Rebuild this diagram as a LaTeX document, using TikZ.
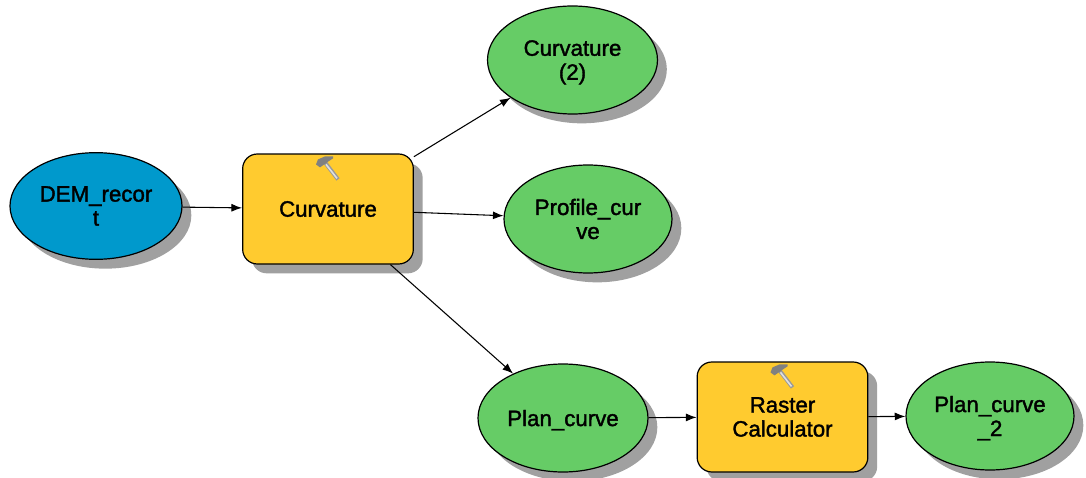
\documentclass[tikz,border=0pt]{standalone}
\usepackage{fontspec}
\setmainfont{Liberation Sans}[RawFeature={embolden=1.6}]
\usetikzlibrary{shapes.geometric,shadows,arrows.meta}

\definecolor{inputblue}{RGB}{0,153,204}
\definecolor{toolyellow}{RGB}{255,203,47}
\definecolor{outputgreen}{RGB}{102,204,102}
\definecolor{shadowgrey}{RGB}{160,160,160}

\tikzset{
  every picture/.style={line width=0.75pt},
  modelshape/.style={draw=black,line width=0.9pt,inner sep=0pt,align=center,
    font=\fontsize{16.7}{18}\selectfont,
    general shadow={fill=shadowgrey,shadow xshift=7pt,shadow yshift=-7pt}},
  dataoval/.style={modelshape,ellipse,minimum width=127.5pt,minimum height=81pt},
  toolbox/.style={modelshape,rectangle,rounded corners=11pt,minimum width=128pt,minimum height=82.5pt},
  flow/.style={draw=black,line width=0.8pt,-{Latex[length=8pt,width=6pt]}},
  hammericon/.pic={
    \draw [line width=3pt,color=black!40] (-3,-9) -- (10,-26) ;
    \draw [line width=1.2pt,color=black!12] (-2,-11) -- (9,-25) ;
    \fill [color=black!50] (-12,-11) -- (-10,-6) -- (-3,-3) -- (5,-3) -- (5,-5) -- (-1,-9) -- (-8,-14) -- cycle ;
  }
}

\begin{document}
\begin{tikzpicture}[x=0.75pt,y=0.75pt,yscale=-1,xscale=1]
\useasboundingbox (0,0) rectangle (1086,478);

% Data Nodes
\node [dataoval,fill=inputblue,minimum width=129pt,minimum height=80pt] (demrecort) at (96,206) {DEM\_recor\\t};
\node [dataoval,fill=outputgreen,text depth=0pt] (curvaturetwo) at (572.5,60) {Curvature\\(2)};
\node [dataoval,fill=outputgreen,minimum width=126pt] (profilecurve) at (588,219) {Profile\_cur\\ve};
\node [dataoval,fill=outputgreen,text depth=-1pt] (plancurve) at (563,418) {Plan\_curve};
\node [dataoval,fill=outputgreen,minimum width=126pt,text depth=0pt] (plancurvetwo) at (990,416) {Plan\_curve\\\_2};

% Tool Nodes
\node [toolbox,fill=toolyellow] (curvature) at (328,209) {Curvature};
\node [toolbox,fill=toolyellow] (rastercalc) at (782.5,417) {Raster\\Calculator};

% Hammers
\path (curvature.north) pic {hammericon};
\path (rastercalc.north) pic {hammericon};

% Connectors
\draw [flow] (demrecort) -- (curvature);
\draw [flow] (curvature) -- (curvaturetwo);
\draw [flow] (curvature) -- (profilecurve);
\draw [flow] (curvature) -- (plancurve);
\draw [flow] (plancurve) -- (rastercalc);
\draw [flow] (rastercalc) -- (plancurvetwo);

\end{tikzpicture}
\end{document}
